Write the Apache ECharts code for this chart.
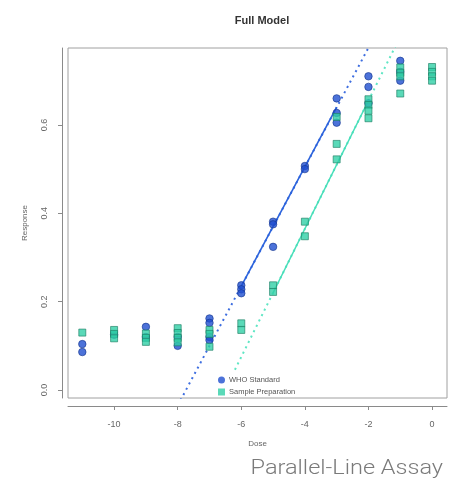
<!DOCTYPE html>
<html lang="en">
<head>
    <meta charset="UTF-8">
    <title>Full Model</title>
    <script type="text/javascript" src="https://cdn.jsdelivr.net/npm/echarts@6.0.0/dist/echarts.min.js"></script>
    <style>
        html, body { margin: 0; padding: 0; background: #fff; }
    </style>
</head>
<body>
<div id="chart" style="width: 449px;height:483px;"></div>
<script>

    // WHO Standard (blue circles)
    var whoDose = [-11, -11, -10, -9, -9, -8, -8, -7, -7, -7, -7, -6, -6, -6, -5, -5, -5, -4, -4, -3, -3, -3, -2, -2, -2, -1, -1, -1];
    var whoResp = [0.104, 0.086, 0.125, 0.143, 0.12, 0.10, 0.12, 0.162, 0.152, 0.12, 0.113, 0.237, 0.228, 0.219, 0.381, 0.375, 0.324, 0.507, 0.50, 0.66, 0.627, 0.605, 0.71, 0.686, 0.649, 0.745, 0.72, 0.70];

    // Sample Preparation (teal squares)
    var sampleDose = [-11, -10, -10, -10, -9, -9, -9, -8, -8, -8, -8, -7, -7, -7, -6, -6, -5, -5, -4, -4, -3, -3, -3, -2, -2, -2, -2, -1, -1, -1, -1, 0, 0, 0, 0];
    var sampleResp = [0.13, 0.136, 0.127, 0.117, 0.128, 0.118, 0.109, 0.14, 0.129, 0.118, 0.108, 0.136, 0.127, 0.098, 0.151, 0.136, 0.237, 0.222, 0.381, 0.348, 0.618, 0.557, 0.522, 0.658, 0.645, 0.632, 0.615, 0.73, 0.718, 0.71, 0.671, 0.731, 0.72, 0.71, 0.70];

    // fitted lines: solid over the fitted range, dotted extension
    var whoFitDose = [-6, -3];
    var whoFitResp = [0.235, 0.64];
    var whoExtDose = [-8, -1.5];
    var whoExtResp = [-0.035, 0.842];
    var sampleFitDose = [-5, -2];
    var sampleFitResp = [0.22, 0.655];
    var sampleExtDose = [-6.2, -1];
    var sampleExtResp = [0.046, 0.8];

    var xTicks = [-10, -8, -6, -4, -2, 0];
    var yTicks = [0, 0.2, 0.4, 0.6];

    function pairs(xs, ys) {
        return xs.map(function (x, i) { return [x, ys[i]]; });
    }

    var blue = '#1f4fcf';
    var teal = '#31cfa6';
    var axisGrey = '#8a8a8a';

    var option = {
        animation: false,
        title: {
            text: 'Full Model',
            left: 257,
            top: 10,
            textAlign: 'center',
            textStyle: {fontFamily: 'Liberation Sans', fontSize: 11, fontWeight: 'bold', color: '#333'}
        },
        grid: {
            left: 68, right: 2, top: 48, bottom: 85,
            show: true, borderColor: '#a0a0a0', borderWidth: 1
        },
        legend: {
            data: [
                {name: 'WHO Standard', icon: 'circle', itemStyle: {color: blue, borderWidth: 0}},
                {name: 'Sample Preparation', icon: 'rect', itemStyle: {color: teal, borderWidth: 0}}
            ],
            orient: 'vertical',
            left: 213, top: 371,
            itemWidth: 7, itemHeight: 7, itemGap: 4,
            textStyle: {fontFamily: 'Liberation Sans', fontSize: 7.5, color: '#555', padding: [0, 0, 0, -1]}
        },
        xAxis: {
            type: 'value',
            min: -11.45, max: 0.47,
            offset: 8,
            name: 'Dose',
            nameLocation: 'middle',
            nameGap: 34,
            nameTextStyle: {fontFamily: 'Liberation Sans', fontSize: 8, color: '#666'},
            splitLine: {show: false},
            axisLine: {show: true, onZero: false, lineStyle: {color: axisGrey}},
            axisTick: {show: true, customValues: xTicks, length: 4, lineStyle: {color: axisGrey}},
            axisLabel: {customValues: xTicks, fontFamily: 'Liberation Sans', fontSize: 9, color: '#666', margin: 14}
        },
        yAxis: {
            type: 'value',
            min: -0.018, max: 0.774,
            offset: 6,
            name: 'Response',
            nameLocation: 'middle',
            nameGap: 33,
            nameTextStyle: {fontFamily: 'Liberation Sans', fontSize: 8, color: '#666'},
            splitLine: {show: false},
            axisLine: {show: true, onZero: false, lineStyle: {color: axisGrey}},
            axisTick: {show: true, customValues: yTicks, length: 4, lineStyle: {color: axisGrey}},
            axisLabel: {
                customValues: yTicks, rotate: 90, fontFamily: 'Liberation Sans', fontSize: 9, color: '#666', margin: 13,
                formatter: function (v) { return v.toFixed(1); }
            }
        },
        series: [
            {
                type: 'line', data: pairs(whoExtDose, whoExtResp), symbol: 'none', silent: true,
                lineStyle: {color: '#3e6ee0', width: 2, type: [2, 4]}, z: 1
            },
            {
                type: 'line', data: pairs(sampleExtDose, sampleExtResp), symbol: 'none', silent: true,
                lineStyle: {color: '#5fe6c4', width: 2, type: [2, 4]}, z: 1
            },
            {
                type: 'line', data: pairs(whoFitDose, whoFitResp), symbol: 'none', silent: true,
                lineStyle: {color: '#2b63dc', width: 1.6}, z: 2
            },
            {
                type: 'line', data: pairs(sampleFitDose, sampleFitResp), symbol: 'none', silent: true,
                lineStyle: {color: '#47deb9', width: 1.4}, z: 2
            },
            {
                name: 'WHO Standard', type: 'scatter', data: pairs(whoDose, whoResp),
                symbol: 'circle', symbolSize: 7.5,
                itemStyle: {color: blue, borderColor: '#16378f', borderWidth: 0.8}, z: 3
            },
            {
                name: 'Sample Preparation', type: 'scatter', data: pairs(sampleDose, sampleResp),
                symbol: 'rect', symbolSize: 7,
                itemStyle: {color: teal, borderColor: '#1b7d62', borderWidth: 0.8}, z: 4
            }
        ],
        graphic: [{
            type: 'text', x: 443, y: 469, scaleX: 1.12,
            style: {
                text: 'Parallel-Line Assay', textAlign: 'right', textVerticalAlign: 'middle',
                fontFamily: 'Roboto', fontWeight: 300, fontSize: 21, fill: '#7a7a7a'
            }
        }]
    };

    var myChart = echarts.init(document.getElementById('chart'));
    myChart.setOption(option);

</script>
</body>
</html>
